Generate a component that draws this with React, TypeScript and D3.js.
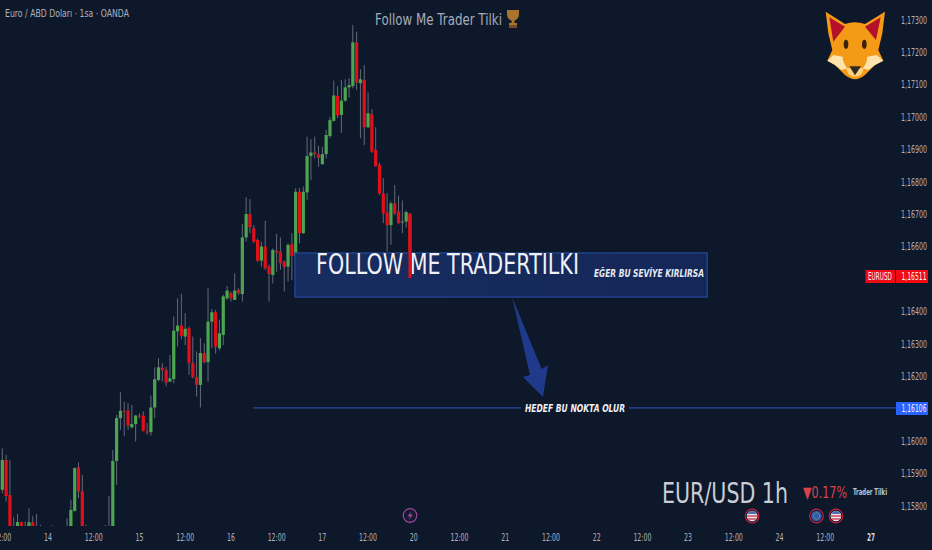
import React from "react";
import * as d3 from "d3";

// OHLC per hour, index 0 is the 12:00 candle on the left edge
const opens = [1.1585,1.15942,1.15834,1.15716,1.15685,1.1575,1.15695,1.15685,1.1575,1.15726,1.15706,1.157,1.1568,1.157,1.1569,1.15705,1.15695,1.1571,1.15685,1.15785,1.15919,1.15845,1.15675,1.157,1.1569,1.157,1.15695,1.15705,1.157,1.15715,1.15939,1.16071,1.16094,1.16094,1.16043,1.16053,1.16079,1.16079,1.1603,1.16028,1.16104,1.16189,1.16227,1.1622,1.16184,1.16192,1.16339,1.16357,1.16323,1.16349,1.16241,1.16198,1.16174,1.16272,1.16244,1.16369,1.16398,1.16287,1.16328,1.16441,1.16457,1.16436,1.16467,1.16454,1.16629,1.16701,1.16657,1.16621,1.16557,1.16601,1.16539,1.16513,1.16588,1.16585,1.16554,1.16539,1.16608,1.16572,1.1677,1.16642,1.16768,1.1688,1.16891,1.16886,1.16855,1.16886,1.16942,1.16989,1.17066,1.17007,1.17051,1.17092,1.17096,1.17231,1.17105,1.17115,1.16969,1.17009,1.16899,1.16853,1.16765,1.16706,1.16667,1.16734,1.16709,1.16676,1.16678,1.167];
const highs = [1.15978,1.15958,1.15942,1.15765,1.15775,1.15752,1.15752,1.15793,1.15769,1.15775,1.15742,1.1572,1.15725,1.15741,1.15725,1.15725,1.15728,1.15762,1.15819,1.15919,1.15934,1.15896,1.15742,1.1572,1.15722,1.1572,1.15725,1.15741,1.15831,1.15973,1.16081,1.16151,1.16122,1.16117,1.16112,1.16081,1.16086,1.16092,1.16056,1.16141,1.16228,1.16256,1.16241,1.1623,1.16266,1.16385,1.16441,1.16455,1.16395,1.16354,1.16323,1.16277,1.16318,1.16302,1.16472,1.16408,1.16405,1.16375,1.16452,1.16479,1.16462,1.16518,1.16472,1.16671,1.16753,1.16747,1.16667,1.16625,1.16616,1.1668,1.16545,1.16595,1.1664,1.16629,1.16559,1.16611,1.16642,1.16781,1.16781,1.16786,1.1694,1.16932,1.1694,1.16911,1.16909,1.16961,1.17,1.17113,1.17096,1.17115,1.17117,1.1712,1.17285,1.17264,1.17148,1.17161,1.17076,1.17025,1.16969,1.1686,1.16812,1.16765,1.1674,1.16791,1.16758,1.16743,1.16712,1.16703];
const lows = [1.15839,1.15814,1.15623,1.15654,1.15675,1.15685,1.15685,1.15675,1.15675,1.15675,1.15675,1.1566,1.1567,1.15665,1.1567,1.1568,1.1568,1.1567,1.15675,1.15783,1.15824,1.15665,1.15655,1.1567,1.15675,1.1568,1.1568,1.15685,1.1569,1.157,1.15865,1.16035,1.16016,1.16035,1.1604,1.15999,1.16071,1.1603,1.1602,1.16017,1.16071,1.16184,1.16184,1.16169,1.16184,1.16179,1.16292,1.16315,1.16297,1.16205,1.16194,1.16138,1.16104,1.1624,1.16184,1.16287,1.1627,1.1628,1.16297,1.16436,1.16431,1.16436,1.16451,1.16431,1.16616,1.16642,1.16611,1.16554,1.16539,1.16529,1.16431,1.16487,1.16523,1.16529,1.16462,1.16493,1.16498,1.16536,1.16611,1.1664,1.16745,1.16806,1.16873,1.16847,1.16853,1.16873,1.16935,1.16986,1.16997,1.16952,1.17048,1.17061,1.17089,1.17084,1.16935,1.16914,1.16966,1.1689,1.16847,1.1676,1.16673,1.16585,1.16606,1.16698,1.16671,1.16642,1.1666,1.16503];
const closes = [1.15942,1.15831,1.15675,1.15675,1.1575,1.15695,1.15716,1.1575,1.15685,1.15685,1.15685,1.1568,1.157,1.1569,1.15705,1.15695,1.1571,1.1569,1.15788,1.15917,1.15845,1.15675,1.157,1.1569,1.157,1.15695,1.15705,1.157,1.15715,1.15939,1.16071,1.16094,1.16091,1.16048,1.16053,1.16079,1.16076,1.16032,1.16027,1.16104,1.16191,1.16228,1.1622,1.16181,1.16194,1.16341,1.16357,1.16325,1.16347,1.16241,1.16198,1.16174,1.16272,1.16244,1.16369,1.16398,1.16292,1.16333,1.16447,1.16465,1.16441,1.16465,1.16457,1.16629,1.16701,1.1666,1.16616,1.16557,1.16601,1.16534,1.16516,1.1659,1.16582,1.16549,1.16537,1.16606,1.16572,1.1677,1.16642,1.1677,1.1688,1.16891,1.16886,1.16875,1.16886,1.16945,1.16991,1.17067,1.17005,1.17051,1.17092,1.17099,1.17231,1.17107,1.17117,1.16969,1.17012,1.16894,1.16849,1.16765,1.16703,1.16667,1.16734,1.16703,1.16673,1.16678,1.16707,1.16511];

const priceTicks = [1.173,1.172,1.171,1.17,1.169,1.168,1.167,1.166,1.164,1.163,1.162,1.16,1.159,1.158];
const timeTicks: [number, string][] = [[0,"12:00"],[12,"14"],[24,"12:00"],[36,"15"],[48,"12:00"],[60,"16"],[72,"12:00"],[84,"17"],[96,"12:00"],[108,"20"],[120,"12:00"],[132,"21"],[144,"12:00"],[156,"22"],[168,"12:00"],[180,"23"],[192,"12:00"],[204,"24"],[216,"12:00"],[228,"27"]];

const lastPrice = 1.16511;
const targetPrice = 1.16106;
const zoneTop = 1.16581;
const zoneBottom = 1.16445;
const zoneStart = 76.8;
const zoneEnd = 185;
const targetStart = 65.8;
const newsBars = [196.8, 213.7, 218.8];

const x = d3.scaleLinear().domain([0, 228]).range([2.3, 871]);
const y = d3.scaleLinear().domain([1.173, 1.158]).range([20, 506]);
const fmt = d3.format(".5f");
const priceText = (p: number) => fmt(p).replace(".", ",");

// the original font is narrower than anything installed, so squeeze to measured widths
const Label = ({ w, children, ...rest }: any) => (
  <text
    fontFamily="'DejaVu Sans', sans-serif"
    textLength={w}
    lengthAdjust="spacingAndGlyphs"
    {...rest}
  >
    {children}
  </text>
);

const FoxHead = () => (
  <g transform="translate(800,0) scale(0.3333)">
    <path d="M77,35 L135,72 Q165,62 195,72 L255,35 L247,100 L235,150 L250,182 L225,195 L195,225 Q165,250 135,225 L105,195 L82,182 L97,150 L85,100 Z" fill="#f59a16" />
    <path d="M88,52 L135,80 L100,125 Z" fill="#b3102a" />
    <path d="M242,52 L195,80 L228,120 Z" fill="#b3102a" />
    <path d="M82,182 L100,165 L128,170 Q128,188 142,205 L125,210 L105,195 Z" fill="#fde3ae" />
    <path d="M250,182 L230,165 L202,170 Q202,188 188,205 L205,210 L225,195 Z" fill="#fde3ae" />
    <path d="M138,205 L192,205 L185,222 Q165,238 145,222 Z" fill="#fcd27e" />
    <path d="M148,199 L183,199 L165,226 Z" fill="#2f2a24" />
    <ellipse cx="138" cy="133" rx="7" ry="14" fill="#3a2410" />
    <ellipse cx="193" cy="133" rx="7" ry="14" fill="#3a2410" />
  </g>
);

const Trophy = () => (
  <g transform="translate(507,10)" fill="#a9752c">
    <path d="M0,0 H12 V4 Q12,9 7.5,10.5 V13 H10 V15 H2 V13 H4.5 V10.5 Q0,9 0,4 Z" />
    <rect x="2" y="15" width="8" height="3" fill="#7a4a2a" />
  </g>
);

const Flag = ({ cx, eu }: { cx: number; eu?: boolean }) => (
  <g>
    <circle cx={cx} cy={516} r={6.8} fill="#11182c" stroke="#c2203f" strokeWidth={1.2} />
    {eu ? (
      <>
        <circle cx={cx} cy={516} r={5.3} fill="#2c5ca8" />
        <circle cx={cx} cy={516} r={3.2} fill="none" stroke="#9fb070" strokeWidth={0.9} strokeDasharray="1 1" />
      </>
    ) : (
      <>
        <circle cx={cx} cy={516} r={5.3} fill="#e8e8ee" />
        <path d={`M${cx - 5},516 h10 M${cx - 4.3},519 h8.6`} stroke="#d0455a" strokeWidth={1.5} />
        <path d={`M${cx - 4.8},514 a5.3,5.3 0 0 1 9.6,0 Z`} fill="#4a70b4" />
      </>
    )}
  </g>
);

export default function App() {
  const idx = d3.range(opens.length);
  const lineY = y(targetPrice) + 1;
  return (
    <svg width={932} height={550} style={{ position: "absolute", left: 0, top: 0, background: "#0e182b" }}>
      <defs>
        <clipPath id="plot">
          <rect x={0} y={0} width={893} height={526} />
        </clipPath>
        <linearGradient id="zoneFill" x1="0" y1="0" x2="1" y2="0">
          <stop offset="0" stopColor="#172c60" />
          <stop offset="1" stopColor="#152757" />
        </linearGradient>
      </defs>

      <g clipPath="url(#plot)">
        {idx.map((i) => (
          <line key={i} x1={x(i)} x2={x(i)} y1={y(highs[i])} y2={y(lows[i])} stroke="#636a78" strokeWidth={1} />
        ))}
        {idx.map((i) => {
          const up = closes[i] >= opens[i];
          const top = y(Math.max(opens[i], closes[i]));
          const bot = y(Math.min(opens[i], closes[i]));
          return (
            <rect key={i} x={x(i) - 1.6} width={3.2} y={top} height={Math.max(bot - top, 1)} fill={up ? "#4ca650" : "#e0101a"} />
          );
        })}
      </g>

      {/* zone + target drawing */}
      <rect x={x(zoneStart)} y={y(zoneTop)} width={x(zoneEnd) - x(zoneStart)} height={y(zoneBottom) - y(zoneTop)} fill="url(#zoneFill)" stroke="#27489c" strokeWidth={1.2} />

      <Label x={316} y={273.5} w={263} fill="#eef1f6" fontSize={28}>FOLLOW ME TRADERTILKI</Label>
      <Label x={594} y={277} w={110} fill="#e6e9f0" fontSize={11} fontWeight="bold" fontStyle="italic">EĞER BU SEVİYE KIRLIRSA</Label>

      {/* the last candle sits on top of the zone and the title */}
      <line x1={x(107)} x2={x(107)} y1={y(highs[107])} y2={y(lows[107])} stroke="#e0101a" strokeWidth={3} />

      <line x1={x(targetStart)} x2={521} y1={lineY} y2={lineY} stroke="#2a4a9c" strokeWidth={1.2} />
      <line x1={629} x2={896} y1={lineY} y2={lineY} stroke="#2a4a9c" strokeWidth={1.2} />
      <Label x={525} y={411.5} w={100} fill="#eef1f6" fontSize={11} fontWeight="bold" fontStyle="italic">HEDEF BU NOKTA OLUR</Label>
      <path d="M512,297 L541.7,369 L548,365 L543,397 L523,377 L530,375 Z" fill="#1f3a8a" />

      {/* axes */}
      {priceTicks.map((p) => (
        <Label key={p} x={901} y={y(p) + 3.6} w={26} fill="#aeb2bb" fontSize={10}>{priceText(p)}</Label>
      ))}
      {timeTicks.map(([t, label], i) => {
        const w = label.length > 2 ? 18 : 8;
        return (
          <Label key={i} x={x(t) - w / 2} y={541} w={w} fill={label === "27" ? "#d4d7dd" : "#aeb2bb"} fontSize={10.5} fontWeight={label === "27" ? "bold" : "normal"}>{label}</Label>
        );
      })}

      {/* price tags */}
      <rect x={865.5} y={270} width={29.5} height={13} fill="#f00a14" />
      <Label x={868} y={280} w={24} fill="#f4f4f6" fontSize={10}>EURUSD</Label>
      <rect x={896} y={270} width={32} height={13} fill="#f00a14" />
      <Label x={901.5} y={280} w={25} fill="#f4f4f6" fontSize={10}>{priceText(lastPrice)}</Label>
      <rect x={896} y={402} width={32} height={13} fill="#2962ff" />
      <Label x={901.5} y={412} w={25} fill="#f4f4f6" fontSize={10}>{priceText(targetPrice)}</Label>

      {/* header */}
      <Label x={5} y={17} w={124} fill="#aeb2bb" fontSize={10.5}>Euro / ABD Doları · 1sa · OANDA</Label>
      <Label x={375} y={24.5} w={127} fill="#a6acb8" fontSize={15}>Follow Me Trader Tilki</Label>
      <Trophy />
      <FoxHead />

      {/* bottom right watermark */}
      <Label x={662} y={502.5} w={126} fill="#c9cdd4" fontSize={29}>EUR/USD 1h</Label>
      <Label x={803} y={498} w={44} fill="#d8434a" fontSize={16}>▼0.17%</Label>
      <Label x={853} y={495} w={34} fill="#c0c4cc" fontSize={8.5} fontWeight="bold">Trader Tilki</Label>

      {/* event markers */}
      <circle cx={410} cy={515.5} r={6.8} fill="#141a30" stroke="#a0479c" strokeWidth={1.2} />
      <path d="M411.5,511 L407.5,516.3 H410 L408.8,520 L412.8,514.5 H410.2 Z" fill="#a0479c" />
      {newsBars.map((t, i) => (
        <Flag key={t} cx={x(t)} eu={i === 1} />
      ))}
    </svg>
  );
}
